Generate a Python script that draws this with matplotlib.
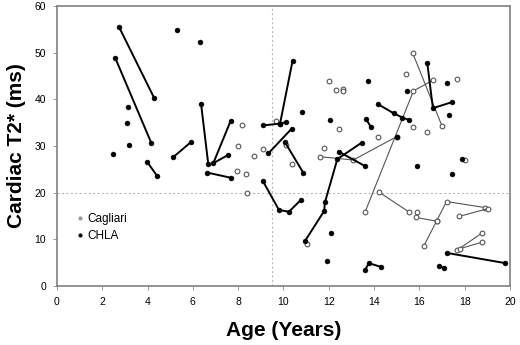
import matplotlib
matplotlib.use("Agg")
import matplotlib.pyplot as plt
from matplotlib.lines import Line2D

plt.rcParams['font.family'] = ['Liberation Sans', 'DejaVu Sans']

# -----------------------------
# Data: age (years) and cardiac T2* (ms)
# -----------------------------
# CHLA patients with repeated scans (connected)
chla_tracks = [
    [(2.74, 55.5), (4.29, 40.3)],
    [(2.57, 48.9), (4.16, 30.7)],
    [(3.98, 26.6), (4.42, 23.6)],
    [(5.13, 27.6), (5.93, 30.9)],
    [(6.36, 39.1), (6.68, 26.1)],
    [(7.67, 35.4), (6.90, 26.3), (7.56, 28.1)],
    [(6.64, 24.3), (7.67, 23.2)],
    [(9.08, 34.4), (9.85, 34.8), (10.10, 35.1)],
    [(9.85, 34.8), (10.40, 48.2)],
    [(9.33, 28.4), (10.36, 33.7)],
    [(10.07, 30.8), (10.87, 24.3)],
    [(9.08, 22.6), (9.80, 16.3), (10.24, 15.9), (10.76, 18.4)],
    [(10.96, 9.7), (11.80, 16.1), (11.83, 17.9), (12.38, 27.2), (13.45, 30.7)],
    [(12.44, 28.8), (13.60, 25.7)],
    [(13.64, 35.8), (13.86, 34.1)],
    [(14.16, 39.0), (14.87, 37.0), (15.25, 36.1), (15.54, 35.6)],
    [(16.35, 47.8), (16.60, 38.1), (17.44, 39.4)],
    [(13.60, 3.4), (13.77, 4.9), (14.30, 4.1)],
    [(17.20, 7.1), (19.80, 4.9)],
    [(16.88, 4.3), (17.10, 3.8)],
]
chla_age = [2.48, 3.14, 3.10, 3.19, 5.30, 6.33, 10.83, 12.05, 11.92, 12.08,
            13.75, 15.44, 15.02, 17.22, 17.32, 17.87, 15.91, 17.43]
chla_t2 = [28.3, 38.4, 35.0, 30.2, 54.8, 52.3, 37.3, 35.5, 5.4, 11.3,
           43.9, 41.8, 32.0, 43.4, 36.6, 27.2, 25.7, 23.9]

# Cagliari patients with repeated scans (connected)
cag_tracks = [
    [(11.63, 27.7), (13.08, 27.0), (15.00, 32.0)],
    [(13.60, 15.8), (15.74, 41.8), (16.60, 44.1)],
    [(15.70, 50.0), (17.00, 34.3)],
    [(14.23, 20.1), (15.56, 15.8)],
    [(15.84, 14.7), (16.76, 13.9), (17.20, 18.1), (18.91, 16.8)],
    [(16.76, 13.9), (16.20, 8.6)],
    [(17.75, 14.9), (19.04, 16.6)],
    [(17.67, 7.7), (18.78, 11.4)],
    [(17.79, 8.0), (18.78, 9.4)],
]
cag_age = [8.18, 7.98, 8.71, 9.08, 7.96, 8.33, 8.37, 9.67, 10.10, 10.36,
           11.04, 11.77, 12.02, 12.30, 12.62, 12.61, 12.45, 14.19, 15.40,
           17.66, 15.70, 16.32, 18.03, 15.88]
cag_t2 = [34.4, 30.0, 27.9, 29.3, 24.6, 24.0, 20.0, 35.4, 30.2, 26.1,
          9.1, 29.6, 43.9, 42.1, 42.3, 41.7, 33.6, 31.9, 45.5,
          44.3, 34.0, 33.0, 26.9, 15.8]

x_ticks = list(range(0, 21, 2))
y_ticks = list(range(0, 61, 10))

# -----------------------------
# Plot
# -----------------------------
fig = plt.figure(figsize=(5.2, 3.45), dpi=100)
ax = fig.add_axes([0.1096, 0.171, 0.871, 0.8116])

ax.axvline(9.5, color='#bbbbbb', lw=0.8, ls=(0, (2, 2)), zorder=0)
ax.axhline(20, color='#bbbbbb', lw=0.8, ls=(0, (2, 2)), zorder=0)

open_style = dict(marker='o', ms=3.4, mfc='white', mec='#555555', mew=0.8)
for track in cag_tracks:
    xs, ys = zip(*track)
    ax.plot(xs, ys, color='#555555', lw=0.8, zorder=2, **open_style)
ax.plot(cag_age, cag_t2, ls='none', zorder=2, **open_style)

fill_style = dict(marker='o', ms=3.4, mfc='black', mec='black', mew=0.5)
for track in chla_tracks:
    xs, ys = zip(*track)
    ax.plot(xs, ys, color='black', lw=1.4, zorder=3, **fill_style)
ax.plot(chla_age, chla_t2, ls='none', zorder=3, **fill_style)

ax.set_xlim(0, 20)
ax.set_ylim(0, 60)
ax.set_xticks(x_ticks)
ax.set_yticks(y_ticks)
ax.tick_params(labelsize=7.5, length=3, width=0.6, color='#888888', pad=5)
for sp in ax.spines.values():
    sp.set_color('#808080')
    sp.set_linewidth(1.2)

ax.set_xlabel('Age (Years)', fontsize=15, fontweight='bold', labelpad=10)
ax.set_ylabel('Cardiac T2* (ms)', fontsize=15, fontweight='bold', labelpad=6)

handles = [
    Line2D([], [], ls='none', marker='o', ms=2, mfc='#999999', mec='#999999'),
    Line2D([], [], ls='none', marker='o', ms=2, mfc='black', mec='black'),
]
ax.legend(handles, ['Cagliari', 'CHLA'], loc='lower left',
          bbox_to_anchor=(0.02, 0.12), frameon=False, fontsize=8.5,
          handlelength=0.6, handletextpad=0.3, labelspacing=0.4)

fig.savefig('out.png', dpi=100)
